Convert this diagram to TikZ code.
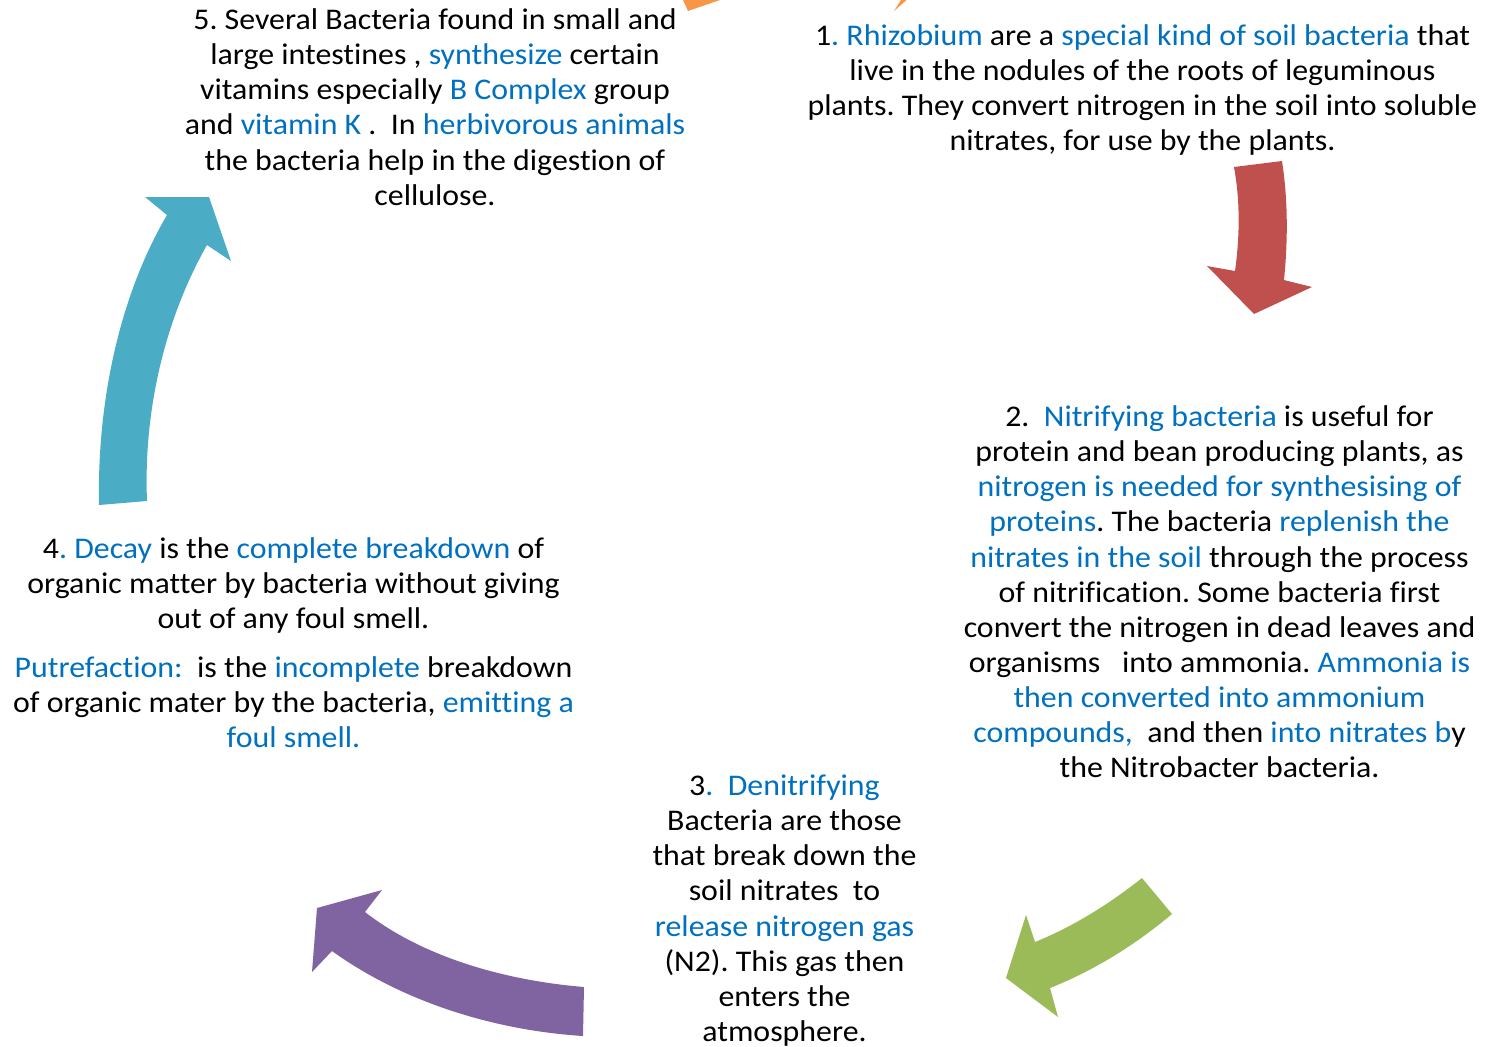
\documentclass[tikz,border=0pt]{standalone}
\usepackage{fontspec}
\setmainfont{Carlito}[FakeStretch=1.062, Ligatures=NoCommon]
\definecolor{nblue}{HTML}{0070C0}
\definecolor{aorange}{HTML}{F79646}
\definecolor{ared}{HTML}{C0504D}
\definecolor{agreen}{HTML}{9BBB59}
\definecolor{apurple}{HTML}{8064A2}
\definecolor{acyan}{HTML}{4BACC6}
\newcommand{\bl}[1]{\textcolor{nblue}{#1}}
\frenchspacing
\begin{document}
\begin{tikzpicture}[x=0.5pt,y=-0.5pt,
  txt/.style={anchor=base, inner sep=0pt, font=\fontsize{15}{17.5}\selectfont}]
\useasboundingbox (0,0) rectangle (1488,1046);
\begin{scope}
\clip (0,0) rectangle (1488,1046);
% orange arrow pieces (mostly off canvas)
\fill[aorange] (678.5,-10) -- (688,11) -- (749,-10) -- cycle;
\fill[aorange] (894,11) -- (907.4,-10) -- (918,-10) -- cycle;
% red arrow
\fill[ared] (1234,167) -- (1282,161) .. controls (1288,200) and (1288,240) .. (1284,280)
  -- (1312,287) -- (1254,314) -- (1207,266) -- (1235,271)
  .. controls (1240,235) and (1240,200) .. (1234,167) -- cycle;
% green arrow
\fill[agreen] (1142,878) -- (1172,914) .. controls (1135,945) and (1095,970) .. (1050,988)
  -- (1058,1017) -- (1006,978) -- (1026,915) -- (1035,942)
  .. controls (1072,927) and (1108,905) .. (1142,878) -- cycle;
% purple arrow
\fill[apurple] (584,987) -- (583,1036) .. controls (490,1030) and (400,1000) .. (332,951)
  -- (312,972) -- (317,908) -- (382,890) -- (365,912)
  .. controls (420,955) and (500,980) .. (584,987) -- cycle;
% cyan arrow
\fill[acyan] (99,505) .. controls (97,400) and (120,295) .. (167,215)
  -- (145,197) -- (209,197) -- (231,261) -- (207,245)
  .. controls (170,310) and (143,400) .. (147,501) -- cycle;

% block 5
\node[txt] (t5a) at (435,29) {5. Several Bacteria found in small and};
\node[txt] (t5b) at (435,64) {large intestines , \bl{synthesize} certain};
\node[txt] (t5c) at (435,99) {vitamins especially \bl{B Complex} group};
\node[txt] (t5d) at (435,134) {and \bl{vitamin K} .\ \ In \bl{herbivorous animals}};
\node[txt] (t5e) at (435,170) {the bacteria help in the digestion of};
\node[txt] (t5f) at (435,205) {cellulose.};
% block 1
\node[txt] (t1a) at (1142.5,45) {1\bl{. Rhizobium} are a \bl{special kind of soil bacteria} that};
\node[txt] (t1b) at (1142.5,80) {live in the nodules of the roots of leguminous};
\node[txt] (t1c) at (1142.5,115) {plants. They convert nitrogen in the soil into soluble};
\node[txt] (t1d) at (1142.5,150) {nitrates, for use by the plants.};
% block 2
\node[txt] (t2a) at (1219.5,426) {2.\ \ \bl{Nitrifying bacteria} is useful for};
\node[txt] (t2b) at (1219.5,461) {protein and bean producing plants, as};
\node[txt] (t2c) at (1219.5,496) {\bl{nitrogen is needed for synthesising of}};
\node[txt] (t2d) at (1219.5,531) {\bl{proteins}. The bacteria \bl{replenish the}};
\node[txt] (t2e) at (1219.5,567) {\bl{nitrates in the soil} through the process};
\node[txt] (t2f) at (1219.5,602) {of nitrification. Some bacteria first};
\node[txt] (t2g) at (1219.5,637) {convert the nitrogen in dead leaves and};
\node[txt] (t2h) at (1219.5,672) {organisms\ \ \ into ammonia. \bl{Ammonia is}};
\node[txt] (t2i) at (1219.5,707) {\bl{then converted into ammonium}};
\node[txt] (t2j) at (1219.5,742) {\bl{compounds,}\ \ and then \bl{into nitrates b}y};
\node[txt] (t2k) at (1219.5,777) {the Nitrobacter bacteria.};
% block 3
\node[txt] (t3a) at (784.5,795) {3\bl{.\ \ Denitrifying}};
\node[txt] (t3b) at (784.5,830) {Bacteria are those};
\node[txt] (t3c) at (784.5,865) {that break down the};
\node[txt] (t3d) at (784.5,900) {soil nitrates\ \ to};
\node[txt] (t3e) at (784.5,936) {\bl{release nitrogen gas}};
\node[txt] (t3f) at (784.5,971) {(N2). This gas then};
\node[txt] (t3g) at (784.5,1006) {enters the};
\node[txt] (t3h) at (784.5,1041) {atmosphere.};
% block 4
\node[txt] (t4a) at (293.5,558) {4\bl{. Decay} is the \bl{complete breakdown} of};
\node[txt] (t4b) at (293.5,593) {organic matter by bacteria without giving};
\node[txt] (t4c) at (293.5,628) {out of any foul smell.};
\node[txt] (t4d) at (293.5,677) {\bl{Putrefaction:}\ \ is the \bl{incomplete} breakdown};
\node[txt] (t4e) at (293.5,712) {of organic mater by the bacteria, \bl{emitting a}};
\node[txt] (t4f) at (293.5,747) {\bl{foul smell.}};
\end{scope}
\end{tikzpicture}
\end{document}
